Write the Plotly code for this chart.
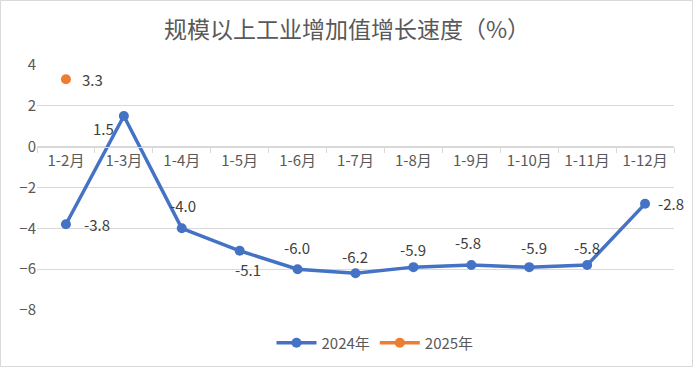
import plotly.graph_objects as go

categories = ["1-2月", "1-3月", "1-4月", "1-5月", "1-6月", "1-7月", "1-8月", "1-9月", "1-10月", "1-11月", "1-12月"]
values_2024 = [-3.8, 1.5, -4.0, -5.1, -6.0, -6.2, -5.9, -5.8, -5.9, -5.8, -2.8]
categories_2025 = ["1-2月"]
values_2025 = [3.3]
y_ticks = [4, 2, 0, -2, -4, -6, -8]

# label offsets (pixels) for data labels
offsets_2024 = [(31, 0), (-20, -12), (1, 23), (8, -19), (-1, 22), (-1, 17), (0, 18), (-3, 23), (5, 20), (0, 18), (26, 0)]
offsets_2025 = [(27, 0)]

BLUE = "#4472C4"
ORANGE = "#ED7D31"
FONT = "Noto Sans CJK SC"

W, H = 694, 368
ML, MR, MT, MB = 37, 20, 65, 58
PW, PH = W - ML - MR, H - MT - MB

fig = go.Figure()
fig.add_trace(go.Scatter(
    x=categories, y=values_2024, name="2024年", mode="lines+markers",
    line=dict(color=BLUE, width=3.5), marker=dict(color=BLUE, size=10),
))
fig.add_trace(go.Scatter(
    x=categories_2025, y=values_2025, name="2025年", mode="lines+markers",
    line=dict(color=ORANGE, width=3.5), marker=dict(color=ORANGE, size=10),
))

annotations = []
for c, v, (dx, dy) in zip(categories, values_2024, offsets_2024):
    annotations.append(dict(x=c, y=v, text=f"{v:.1f}", showarrow=False,
                            xshift=dx, yshift=dy, font=dict(size=15, color="#404040", family=FONT)))
for c, v, (dx, dy) in zip(categories_2025, values_2025, offsets_2025):
    annotations.append(dict(x=c, y=v, text=f"{v:.1f}", showarrow=False,
                            xshift=dx, yshift=dy, font=dict(size=15, color="#404040", family=FONT)))

ymin, ymax = -8, 4
fig.update_layout(
    width=W, height=H,
    margin=dict(l=ML, r=MR, t=MT, b=MB, autoexpand=False),
    paper_bgcolor="white", plot_bgcolor="white",
    title=dict(text="规模以上工业增加值增长速度（%）", x=0.5, xanchor="center",
               y=1 - 30 / H, yanchor="middle",
               font=dict(size=23, color="#595959", family=FONT)),
    xaxis=dict(
        type="category", range=[-0.5, len(categories) - 0.5], automargin=False,
        anchor="free", position=(0 - ymin) / (ymax - ymin),
        showline=True, linecolor="#d9d9d9", linewidth=1,
        ticks="outside", tickson="boundaries", ticklen=5, tickcolor="#d9d9d9",
        showgrid=False, tickfont=dict(size=15, color="#595959", family=FONT),
    ),
    yaxis=dict(
        range=[ymin, ymax], tickvals=y_ticks, showgrid=True, gridcolor="#d9d9d9",
        zeroline=False, showline=False, ticks="", automargin=False,
        tickfont=dict(size=15, color="#595959", family=FONT),
    ),
    legend=dict(orientation="h", x=(375 - ML) / PW, xanchor="center",
                y=-(343 - (MT + PH)) / PH, yanchor="middle",
                font=dict(size=15, color="#595959", family=FONT), itemwidth=40),
    annotations=annotations,
    showlegend=True,
)
fig.add_shape(type="rect", xref="paper", yref="paper",
              x0=-(ML - 0.5) / PW, x1=1 + (MR - 1.5) / PW,
              y0=-(MB - 1.5) / PH, y1=1 + (MT - 0.5) / PH,
              line=dict(color="#d9d9d9", width=1), layer="below")

fig.write_html("out.html", config={"displayModeBar": False},
               post_script="document.body.style.margin='0';")
